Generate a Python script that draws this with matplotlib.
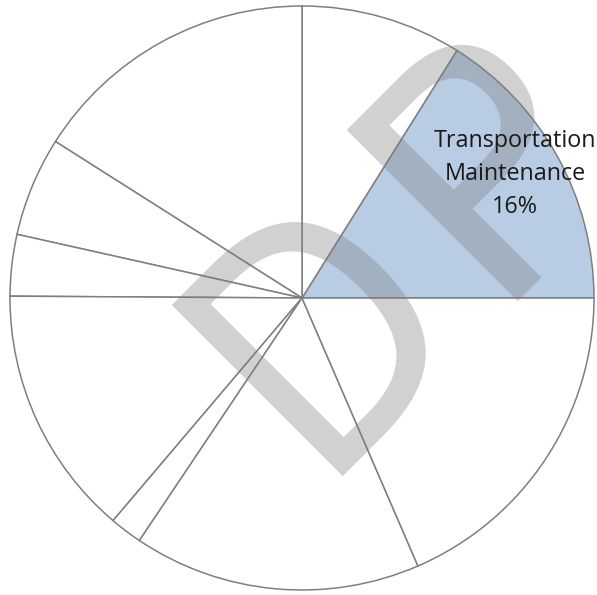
import matplotlib
matplotlib.use("Agg")
import matplotlib.pyplot as plt
from matplotlib.textpath import TextPath
from matplotlib.patches import PathPatch
from matplotlib.font_manager import FontProperties
from matplotlib.transforms import Affine2D

# pie shares in percent, counter-clockwise starting at 3 o'clock
categories = ["Transportation Maintenance", "Item 2", "Item 3", "Item 4", "Item 5",
              "Item 6", "Item 7", "Item 8", "Item 9"]
shares = [16.1, 8.9, 16.0, 5.5, 3.4, 13.9, 1.8, 15.9, 18.5]
highlighted = "Transportation Maintenance"

W, H = 597, 595
fig = plt.figure(figsize=(W / 100, H / 100), dpi=100)
ax = fig.add_axes([0, 0, 1, 1])

colors = ["#b8cce4" if c == highlighted else "white" for c in categories]
wedges, _ = ax.pie(shares, colors=colors, startangle=0, counterclock=True,
                   center=(302, 297), radius=292,
                   wedgeprops=dict(edgecolor="#7f7f7f", linewidth=1.1))
ax.set_xlim(0, W)
ax.set_ylim(0, H)
ax.set_aspect("equal")
ax.axis("off")

# grey "DP" watermark lying over the chart
wm_font = FontProperties(family="DejaVu Sans")
def watermark(letter, corner, width, height):
    path = TextPath((0, 0), letter, size=330, prop=wm_font)
    ext = path.get_extents()
    tr = (Affine2D().translate(-ext.x0, -ext.y1)
          .scale(width / ext.width, height / ext.height)
          .rotate_deg(45).translate(*corner))
    ax.add_patch(PathPatch(tr.transform_path(path), fc="#7a7a7c", ec="none",
                           alpha=0.34, zorder=3))

watermark("D", (171.7, 290), 175, 242)
watermark("P", (346.7, 465), 160, 242)

# label on the highlighted slice
i = categories.index(highlighted)
label_lines = highlighted.split(" ") + [f"{shares[i]:.0f}%"]
for k, line in enumerate(label_lines):
    ax.text(515, 448 - 33 * k, line, ha="center", va="baseline",
            fontsize=16.8, family="Open Sans", color="#1a1a1a", zorder=4)

fig.savefig("out.png", dpi=100)
